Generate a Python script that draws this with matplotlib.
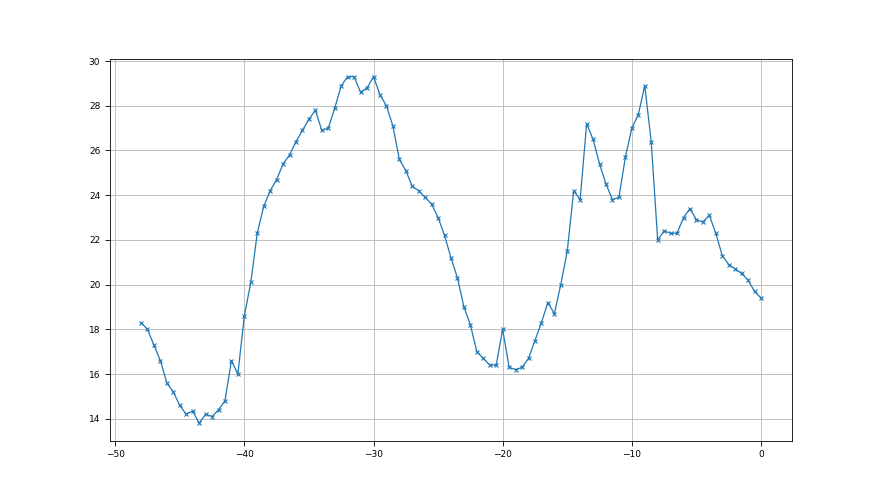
import matplotlib
matplotlib.use("Agg")
import matplotlib.pyplot as plt
import numpy as np

# ── Dados ──────────────────────────────────────────────────────────────────────
x_vals = np.arange(-48.0, 0.01, 0.5)
y_vals = [
    18.3, 18.0, 17.3, 16.6, 15.6, 15.2, 14.6, 14.2, 14.35, 13.8,
    14.2, 14.1, 14.4, 14.8, 16.6, 16.0, 18.6, 20.1, 22.3, 23.5,
    24.2, 24.7, 25.4, 25.8, 26.4, 26.9, 27.4, 27.8, 26.9, 27.0,
    27.9, 28.9, 29.3, 29.3, 28.6, 28.8, 29.3, 28.5, 28.0, 27.1,
    25.6, 25.1, 24.4, 24.2, 23.9, 23.6, 23.0, 22.2, 21.2, 20.3,
    19.0, 18.2, 17.0, 16.7, 16.4, 16.4, 18.0, 16.3, 16.2, 16.3,
    16.7, 17.5, 18.3, 19.2, 18.7, 20.0, 21.5, 24.2, 23.8, 27.2,
    26.5, 25.4, 24.5, 23.8, 23.9, 25.7, 27.0, 27.6, 28.9, 26.4,
    22.0, 22.4, 22.3, 22.3, 23.0, 23.4, 22.9, 22.8, 23.1, 22.3,
    21.3, 20.9, 20.7, 20.5, 20.2, 19.7, 19.4,
]

fig, ax = plt.subplots(figsize=(8.8, 4.95), dpi=100)
ax.plot(x_vals, y_vals, marker="x", markersize=3.5, markeredgewidth=0.8,
        linewidth=0.9, color="#1f77b4")
ax.grid(True, color="#c0c0c0", linewidth=0.7)
ax.tick_params(labelsize=6.5, width=0.6)
for s in ax.spines.values():
    s.set_linewidth(0.6)
plt.savefig("out.png", dpi=100)
plt.close()
